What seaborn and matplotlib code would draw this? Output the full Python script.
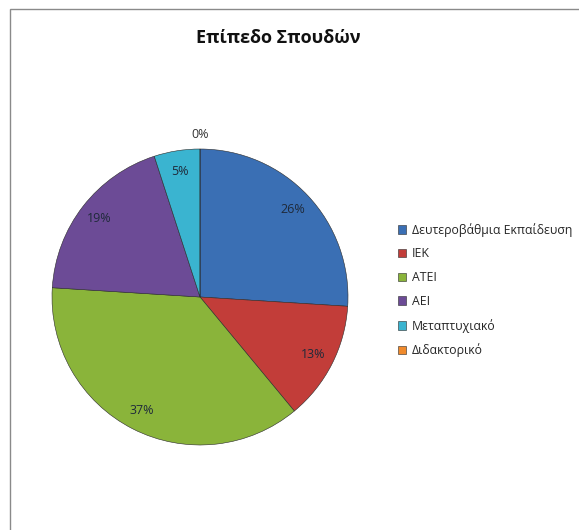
import numpy as np
import matplotlib
matplotlib.use("Agg")
import matplotlib.pyplot as plt
from matplotlib.patches import Rectangle
import seaborn as sns

# δεδομένα
categories = ["Δευτεροβάθμια Εκπαίδευση", "ΙΕΚ", "ΑΤΕΙ", "ΑΕΙ", "Μεταπτυχιακό", "Διδακτορικό"]
shares = [26, 13, 37, 19, 5, 0]
colors = ["#3a6fb4", "#c23d39", "#8ab43a", "#6c4b96", "#3ab4d0", "#f08a2c"]
title = "Επίπεδο Σπουδών"

sns.set_theme(style="white")
plt.rcParams["font.family"] = ["Open Sans", "DejaVu Sans"]

fig = plt.figure(figsize=(5.79, 5.30), dpi=100)
W, H = 579, 530

# πλαίσιο γραφήματος (κομμένο δεξιά/κάτω)
fig.add_artist(Rectangle((10 / W, -0.1), 1.2, (H - 9) / H + 0.1,
                         transform=fig.transFigure, fill=False,
                         edgecolor="#8a8a8a", linewidth=1.0))

cx, cy, R = 200, 297, 148
ax = fig.add_axes([(cx - R) / W, (H - cy - R) / H, 2 * R / W, 2 * R / H])

wedges, texts, autotexts = ax.pie(
    shares, colors=colors, startangle=90, counterclock=False,
    autopct="%1.0f%%", pctdistance=0.86, radius=1.0,
    wedgeprops=dict(edgecolor="#2a2a2a", linewidth=0.4),
    textprops=dict(fontsize=9, color="#1f2a3a"))

# η ετικέτα 0% έξω από την πίτα
for w, t, v in zip(wedges, autotexts, shares):
    if v == 0:
        ang = np.deg2rad((w.theta1 + w.theta2) / 2)
        t.set_position((1.10 * np.cos(ang), 1.10 * np.sin(ang)))
        t.set_color("#333333")

ax.set_xlim(-1, 1)
ax.set_ylim(-1, 1)

fig.text(278 / W, 1 - 38 / H, title, ha="center", va="center",
         fontsize=13, fontweight="bold", color="#111111")

fig.legend(wedges, categories, loc="upper left",
           bbox_to_anchor=(393 / W, 1 - 218 / H), frameon=False,
           fontsize=8.8, handlelength=0.7, handleheight=0.7,
           handletextpad=0.45, labelspacing=0.88, borderaxespad=0)

fig.savefig("out.png", dpi=100, facecolor="white")
